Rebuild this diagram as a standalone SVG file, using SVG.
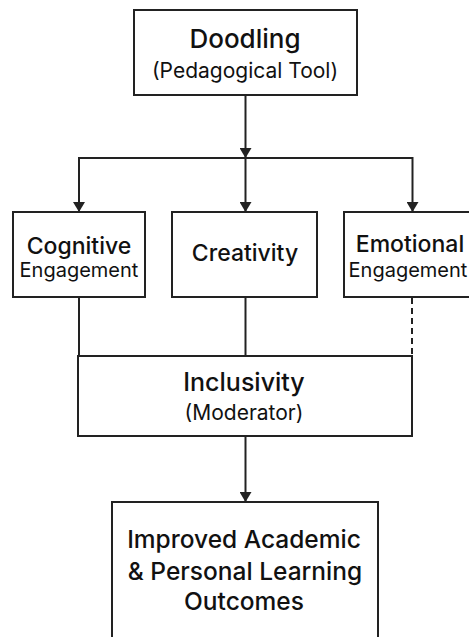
<svg xmlns="http://www.w3.org/2000/svg" width="469" height="637" viewBox="0 0 469 637">
<defs>
<style>
.box{fill:#fff;stroke:#222;stroke-width:2}
.ln{fill:none;stroke:#222;stroke-width:2}
.dash{stroke-dasharray:6 4}
.t{font-family:Inter,"Liberation Sans",sans-serif;fill:#111;text-anchor:middle}
.h{font-weight:500;font-size:23px}
.s{font-weight:400;font-size:20px}
</style>
<marker id="arr" viewBox="0 0 10 12" refX="10" refY="6" markerWidth="10" markerHeight="12" markerUnits="userSpaceOnUse" orient="auto">
<path d="M0,0 L10,6 L0,12 Z" fill="#222"/>
</marker>
</defs>
<rect width="469" height="637" fill="#fff"/>
<g id="connectors">
<line class="ln" x1="245.5" y1="95" x2="245.5" y2="158" marker-end="url(#arr)"/>
<line class="ln" x1="78" y1="158" x2="413" y2="158"/>
<line class="ln" x1="245.5" y1="158" x2="245.5" y2="212" marker-end="url(#arr)"/>
<line class="ln" x1="79" y1="157" x2="79" y2="212" marker-end="url(#arr)"/>
<line class="ln" x1="412.5" y1="157" x2="412.5" y2="212" marker-end="url(#arr)"/>
<line class="ln" x1="79" y1="297" x2="79" y2="356"/>
<line class="ln" x1="245.5" y1="297" x2="245.5" y2="356"/>
<line class="ln dash" x1="412" y1="298" x2="412" y2="356"/>
<line class="ln" x1="245.5" y1="436" x2="245.5" y2="502" marker-end="url(#arr)"/>
</g>
<g id="doodling">
<rect class="box" x="134" y="10" width="223" height="85"/>
<text class="t h" x="245" y="48" style="font-size:26px">Doodling</text>
<text class="t s" x="245" y="78" style="font-size:21px">(Pedagogical Tool)</text>
</g>
<g id="cognitive">
<rect class="box" x="13" y="212" width="132" height="85"/>
<text class="t h" x="79" y="254">Cognitive</text>
<text class="t s" x="79" y="277">Engagement</text>
</g>
<g id="creativity">
<rect class="box" x="172" y="212" width="145" height="85"/>
<text class="t h" x="245" y="261">Creativity</text>
</g>
<g id="emotional">
<rect class="box" x="344" y="212" width="140" height="85"/>
<text class="t h" x="410" y="252">Emotional</text>
<text class="t s" x="408" y="277">Engagement</text>
</g>
<g id="inclusivity">
<rect class="box" x="78" y="356" width="334" height="80"/>
<text class="t h" x="244" y="391" style="font-size:25px">Inclusivity</text>
<text class="t s" x="244" y="420" style="font-size:21px">(Moderator)</text>
</g>
<g id="outcomes">
<rect class="box" x="112" y="502" width="266" height="150"/>
<text class="t h" x="244" y="548" style="font-size:24.5px">Improved Academic</text>
<text class="t h" x="245" y="580" style="font-size:24.5px">&amp; Personal Learning</text>
<text class="t h" x="244" y="610" style="font-size:24.5px">Outcomes</text>
</g>
</svg>
